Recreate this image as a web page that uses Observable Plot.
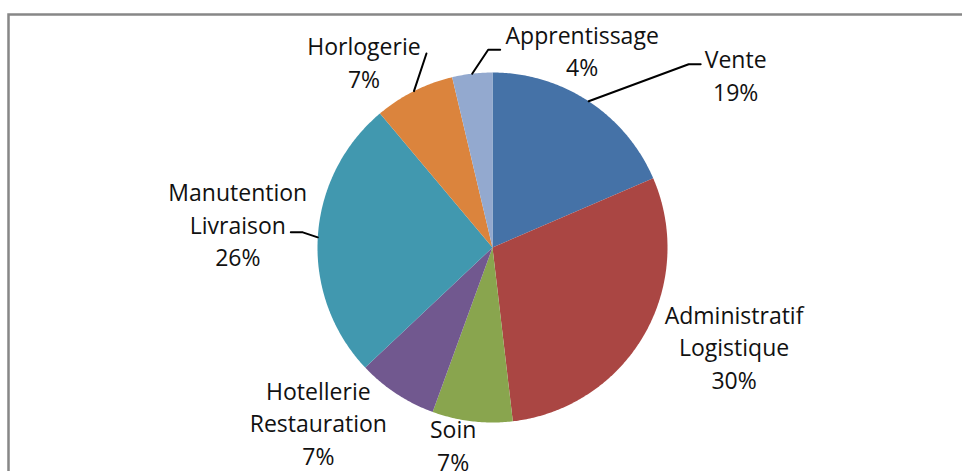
<!DOCTYPE html>
<html><head><meta charset="utf-8">
<script src="https://cdn.jsdelivr.net/npm/d3@7"></script>
<script src="https://cdn.jsdelivr.net/npm/@observablehq/plot@0.6"></script>
<style>html,body{margin:0;padding:0;background:#fff}</style>
</head><body><div id="chart"></div>
<script>
// ---- data ----
const categories = ["Vente", "Administratif\nLogistique", "Soin", "Hotellerie\nRestauration", "Manutention\nLivraison", "Horlogerie", "Apprentissage"];
const counts = [5, 8, 2, 2, 7, 2, 1];
const percentLabels = ["19%", "30%", "7%", "7%", "26%", "7%", "4%"];
const colors = ["#4572A7", "#AA4643", "#89A54E", "#71588F", "#4198AF", "#DB843D", "#93A9CF"];

// ---- layout ----
const W = 962, H = 471, CX = 492, CY = 247, R = 175;
const labelOffset = [[147, -27], [90, 11], [-19, 23], [-78, 28], [-80, -14], [-50, -30], [110, -24]];
const leaderOffsets = [[[100, -37], [112, -37]], null, null, null, [[-15, -5], [-27, -5]], [[12.5, -37.6]], [[16, -24], [28, -24]]];

const total = d3.sum(counts);
const slices = [];
const labels = [];
const leaders = [];
let cum = 0;
counts.forEach((c, i) => {
  const a0 = cum / total * 2 * Math.PI;
  cum += c;
  const a1 = cum / total * 2 * Math.PI;
  const name = categories[i];
  slices.push({name, x: 0, y: 0});
  const n = Math.max(8, Math.ceil((a1 - a0) / 0.01));
  for (let k = 0; k <= n; k++) {
    const t = a0 + (a1 - a0) * k / n;
    slices.push({name, x: Math.sin(t), y: Math.cos(t)});
  }
  slices.push({name, x: 0, y: 0});
  const am = (a0 + a1) / 2;
  const rx = Math.sin(am), ry = Math.cos(am);
  labels.push({x: rx + labelOffset[i][0] / R, y: ry - labelOffset[i][1] / R, text: name + "\n" + percentLabels[i]});
  if (leaderOffsets[i]) {
    leaders.push({id: i, x: rx, y: ry});
    leaderOffsets[i].forEach(([ox, oy]) => leaders.push({id: i, x: rx + ox / R, y: ry - oy / R}));
  }
});

const chart = Plot.plot({
  width: W, height: H, margin: 0,
  style: {background: "#fff", fontFamily: "'Open Sans', sans-serif"},
  x: {domain: [-CX / R, (W - CX) / R], axis: null},
  y: {domain: [-(H - CY) / R, CY / R], axis: null},
  color: {domain: categories, range: colors},
  marks: [
    Plot.frame({stroke: "#878787", strokeWidth: 2.5, insetLeft: 8, insetTop: 14, insetRight: -10, insetBottom: -10}),
    Plot.line(slices, {x: "x", y: "y", z: "name", fill: "name", stroke: "none", curve: "linear"}),
    Plot.line(leaders, {x: "x", y: "y", z: "id", stroke: "#000", strokeWidth: 2, curve: "linear"}),
    Plot.text(labels, {x: "x", y: "y", text: "text", fontSize: 23, lineHeight: 1.42, fill: "#111", textAnchor: "middle"})
  ]
});
document.getElementById("chart").appendChild(chart);
</script>
</body></html>
